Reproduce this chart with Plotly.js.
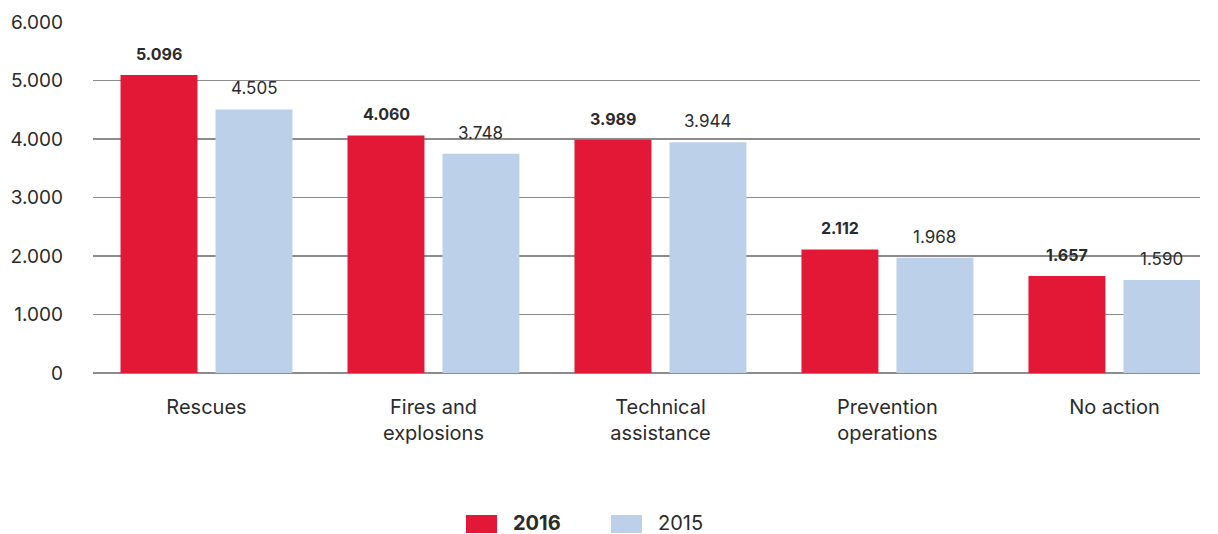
<!DOCTYPE html>
<html>
<head>
<meta charset="utf-8">
<script src="https://cdn.plot.ly/plotly-3.0.1.min.js"></script>
<style>
  html, body { margin: 0; padding: 0; background: #fff; }
  #chart { width: 1218px; height: 534px; }
</style>
</head>
<body>
<div id="chart"></div>
<script>
var categories = ["Rescues", "Fires and<br>explosions", "Technical<br>assistance", "Prevention<br>operations", "No action"];
var values2016 = [5096, 4060, 3989, 2112, 1657];
var values2015 = [4505, 3748, 3944, 1968, 1590];
var yTicks = [0, 1000, 2000, 3000, 4000, 5000, 6000];

var red = "#e31837";
var blue = "#bdd0e9";
var textColor = "#2b2b2b";
var fontFamily = "Inter, Roboto, sans-serif";

var idx = categories.map(function (c, i) { return i; });

function fmt(v) {
  return v.toString().replace(/\B(?=(\d{3})+(?!\d))/g, ".");
}

var traces = [
  {
    type: "bar",
    x: idx,
    y: values2016,
    name: "2016",
    marker: { color: red },
    hoverinfo: "none"
  },
  {
    type: "bar",
    x: idx,
    y: values2015,
    name: "2015",
    marker: { color: blue },
    hoverinfo: "none"
  }
];

var annotations = [];
idx.forEach(function (i) {
  annotations.push({
    x: i - 0.209, y: values2016[i], xref: "x", yref: "y",
    text: "<b>" + fmt(values2016[i]) + "</b>", showarrow: false,
    yanchor: "bottom", yshift: 9,
    font: { family: fontFamily, size: 16, color: textColor }
  });
  annotations.push({
    x: i + 0.209, y: values2015[i], xref: "x", yref: "y",
    text: fmt(values2015[i]), showarrow: false,
    yanchor: "bottom", yshift: 9,
    font: { family: fontFamily, size: 17, color: textColor }
  });
});

// legend drawn by hand so the swatches match the original size
var legendItems = [
  { label: "<b>2016</b>", color: red, x0: 466 },
  { label: "2015", color: blue, x0: 611 }
];
var shapes = [];
legendItems.forEach(function (it) {
  var px0 = (it.x0 - 93) / 1107, px1 = (it.x0 + 31 - 93) / 1107;
  shapes.push({
    type: "rect", xref: "paper", yref: "paper",
    x0: px0, x1: px1, y0: -142 / 351, y1: -160 / 351,
    fillcolor: it.color, line: { width: 0 }
  });
  annotations.push({
    xref: "paper", yref: "paper", x: (it.x0 + 45 - 93) / 1107, y: -150 / 351,
    xanchor: "left", yanchor: "middle", showarrow: false,
    text: it.label, font: { family: fontFamily, size: 20, color: textColor }
  });
});

var layout = {
  width: 1218,
  height: 534,
  margin: { l: 93, r: 18, t: 22, b: 161 },
  paper_bgcolor: "#fff",
  plot_bgcolor: "#fff",
  showlegend: false,
  barmode: "group",
  bargap: 0.163,
  bargroupgap: 0.19,
  font: { family: fontFamily, color: textColor, size: 20 },
  xaxis: {
    type: "linear",
    range: [-0.5, 4.377],
    tickmode: "array",
    tickvals: idx,
    ticktext: categories,
    showgrid: false,
    zeroline: false,
    showline: false,
    ticks: "",
    ticklabelstandoff: 20,
    tickfont: { family: fontFamily, size: 20, color: textColor },
    fixedrange: true
  },
  yaxis: {
    range: [0, 6000],
    tickmode: "array",
    tickvals: yTicks,
    ticktext: yTicks.map(fmt),
    showgrid: true,
    gridcolor: "#8c8c8c",
    gridwidth: 1.5,
    zeroline: true,
    zerolinecolor: "#8c8c8c",
    zerolinewidth: 1.5,
    showline: false,
    ticks: "",
    ticklabelstandoff: 29,
    tickfont: { family: fontFamily, size: 19, color: textColor },
    fixedrange: true
  },
  annotations: annotations,
  shapes: shapes
};

Plotly.newPlot("chart", traces, layout, { displayModeBar: false, staticPlot: true });
</script>
</body>
</html>
